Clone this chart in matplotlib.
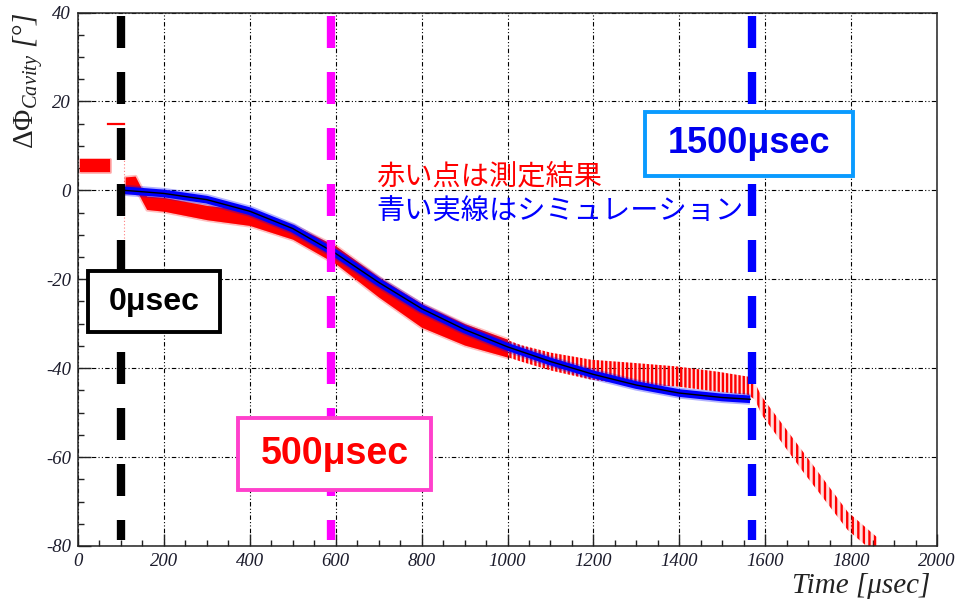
import matplotlib
matplotlib.use("Agg")
import matplotlib.pyplot as plt
from matplotlib.patches import Rectangle
from matplotlib.ticker import MultipleLocator

# ---------------- data ----------------
# measured phase before beam (flat level) [usec], [deg]
pre_t = [5, 75]
pre_lo = [4.2, 4.2]
pre_hi = [7.0, 7.0]

# saturated samples just before the kick
sat_t = [71, 107]
sat_phase = [15.0, 15.0]

# transient spike at beam start
spike_t = [107, 107]
spike_phase = [12.0, -14.0]

# measured phase band during beam (dense sampling)
meas_t = [110, 133, 142, 150, 160, 200, 300, 400, 500, 600, 700, 800, 900, 1000]
meas_lo = [-0.5, -0.5, -1.0, -2.5, -4.3, -4.7, -6.6, -7.9, -11.0, -16.5, -24.0, -30.8, -34.8, -37.5]
meas_hi = [3.0, 3.2, 1.5, 0.0, -1.3, -1.6, -3.4, -4.5, -7.8, -12.5, -19.5, -25.5, -30.0, -33.5]

# measured phase band, late beam (sparser sampling)
late_t = [990, 1031, 1100, 1195, 1292, 1393, 1490, 1560, 1576]
late_lo = [-37.2, -38.5, -40.5, -42.6, -43.7, -44.1, -45.3, -46.0, -47.1]
late_hi = [-33.3, -34.8, -36.5, -38.1, -38.8, -39.6, -40.8, -41.9, -43.3]

# measured phase after beam end
tail_t = [1576, 1592, 1685, 1792, 1860]
tail_lo = [-47.1, -50.5, -62.9, -76.4, -82.0]
tail_hi = [-43.3, -46.4, -58.4, -72.3, -78.0]

# simulated phase
sim_t = [108, 200, 300, 400, 500, 600, 700, 800, 900, 1000, 1100, 1200, 1300, 1400, 1500, 1565]
sim_phase = [0.0, -0.7, -2.1, -4.7, -8.6, -14.2, -20.7, -26.6, -31.3, -35.2, -38.5,
             -41.4, -43.8, -45.6, -46.6, -47.0]

# timing markers
marker_t = [100, 590, 1570]
marker_colors = ["black", "#ff00ff", "#0000ff"]

# ---------------- style ----------------
plt.rcParams["axes.unicode_minus"] = False
plt.rcParams["mathtext.fontset"] = "custom"
plt.rcParams["mathtext.rm"] = "Liberation Serif"
plt.rcParams["mathtext.it"] = "Liberation Serif:italic"
plt.rcParams["hatch.linewidth"] = 1.7

fig = plt.figure(figsize=(9.55, 6.05), dpi=100)
ax = fig.add_axes([78 / 955, 1 - 546 / 605, (937 - 78) / 955, (546 - 12.5) / 605])
ax.set_xlim(0, 2000)
ax.set_ylim(-80, 40)

ax.xaxis.set_major_locator(MultipleLocator(200))
ax.xaxis.set_minor_locator(MultipleLocator(50))
ax.yaxis.set_major_locator(MultipleLocator(20))
ax.yaxis.set_minor_locator(MultipleLocator(5))
ax.tick_params(which="both", direction="in", top=False, right=False, color="#222222")
ax.tick_params(which="major", length=9, width=1.0, pad=5, labelsize=13.5, labelcolor="#1c1c2c")
ax.tick_params(which="minor", length=4.5, width=1.0)
for lab in ax.get_xticklabels() + ax.get_yticklabels():
    lab.set_fontfamily("Liberation Serif")
    lab.set_fontstyle("italic")
for sp in ax.spines.values():
    sp.set_linewidth(1.1)
    sp.set_color("#222222")

ax.set_axisbelow(True)
ax.grid(True, which="major", color="black", lw=0.8, linestyle=(0, (4, 2, 1, 2, 1, 2)))

# ---------------- measurement ----------------
ax.fill_between(pre_t, pre_lo, pre_hi, facecolor="red", edgecolor="red", lw=2.0, alpha=0.3, zorder=2)
ax.fill_between(pre_t, pre_lo, pre_hi, color="red", lw=0, zorder=2.1)
ax.plot(sat_t, sat_phase, color="red", lw=1.6, zorder=2.1)
ax.plot(spike_t, spike_phase, color="red", lw=0.8, alpha=0.5, ls=(0, (1, 2)), zorder=2.1)

ax.fill_between(meas_t, meas_lo, meas_hi, facecolor="red", edgecolor="red", lw=2.5, alpha=0.25, zorder=2)
ax.fill_between(meas_t, meas_lo, meas_hi, color="red", lw=0, zorder=2.1)

ax.fill_between(late_t, late_lo, late_hi, facecolor="red", lw=0, alpha=0.12, zorder=2)
ax.fill_between(late_t, late_lo, late_hi, facecolor="none", edgecolor="red", hatch="||||", lw=0, zorder=2.1)
ax.fill_between(tail_t, tail_lo, tail_hi, facecolor="red", lw=0, alpha=0.12, zorder=2)
ax.fill_between(tail_t, tail_lo, tail_hi, facecolor="none", edgecolor="red", hatch="|||", lw=0, zorder=2.1)

# ---------------- simulation ----------------
ax.plot(sim_t, sim_phase, color="blue", lw=8, alpha=0.3, solid_capstyle="butt", zorder=3)
ax.plot(sim_t, sim_phase, color="blue", lw=5.5, solid_capstyle="butt", zorder=3.1)
ax.plot(sim_t, sim_phase, color="black", lw=1.0, zorder=3.2)

# ---------------- timing markers ----------------
for t, c in zip(marker_t, marker_colors):
    ax.plot([t, t], [39.3, -78.7], color=c, lw=6, dashes=(3.84, 2.88), zorder=4)

# ---------------- annotations ----------------
ax.text(695, 3.2, "赤い点は測定結果", color="red", fontsize=20.3,
        family=["Noto Sans CJK JP"], ha="left", va="center", zorder=5)
ax.text(695, -4.7, "青い実線はシミュレーション", color="blue", fontsize=20.3,
        family=["Noto Sans CJK JP"], ha="left", va="center", zorder=3.9)

boxes = [
    ((23.3, -31.9), 308.1, 13.7, "black", "0μsec", "black", 23),
    ((372.3, -67.5), 450.4, 16.2, "#ff40cc", "500μsec", "#ff0000", 27),
    ((1319.7, 3.2), 485.4, 14.5, "#0a9bff", "1500μsec", "#0000ee", 26),
]
for (x0, y0), w, h, ec, label, tc, fs in boxes:
    ax.add_patch(Rectangle((x0, y0), w, h, facecolor="white", edgecolor=ec, lw=2.8, zorder=6))
    ax.text(x0 + w / 2, y0 + h / 2, label, color=tc, fontsize=fs, fontweight="bold",
            family="Liberation Sans", ha="center", va="center", zorder=7)

fig.text(28 / 955, 1 - 13 / 605, r"$\Delta\Phi_{Cavity}$ [°]", rotation=90, ha="center", va="top",
         fontsize=21, family="Liberation Serif", style="italic", color="#222222")
fig.text(930 / 955, 1 - 586 / 605, "Time [μsec]", ha="right", va="center",
         fontsize=21, family="Liberation Serif", style="italic", color="#222222")

fig.savefig("out.png", dpi=100)
